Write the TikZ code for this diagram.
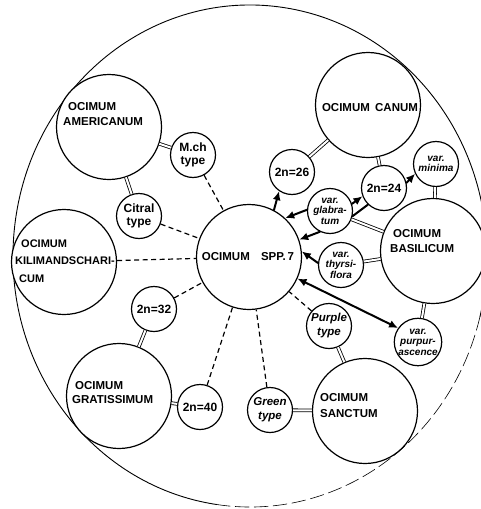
\documentclass[tikz,border=0pt]{standalone}
\usepackage{fontspec}
\setmainfont{Liberation Sans}
\usetikzlibrary{arrows.meta,positioning}

\begin{document}
\begin{tikzpicture}[
		x=1pt,
		y=-1pt,
		line cap=round,
		line join=round,
		bigsp/.style={
			circle,
			draw=black,
			fill=white,
			line width=1.2pt,
			minimum size=105pt,
			inner sep=0pt
		},
		smallsp/.style={
			circle,
			draw=black,
			fill=white,
			line width=1.2pt,
			minimum size=45pt,
			inner sep=0pt,
			align=center,
			font=\bfseries\fontsize{12}{13}\selectfont
		},
		typesp/.style={
			smallsp,
			font=\bfseries\itshape\fontsize{11.5}{14}\selectfont
		},
		varsp/.style={
			smallsp,
			font=\bfseries\itshape\fontsize{10}{10.5}\selectfont
		},
		bigtxt/.style={
			anchor=west,
			align=left,
			inner sep=0pt,
			font=\bfseries\fontsize{11.5}{15}\selectfont
		},
		rim/.style={
			draw=black,
			line width=0.9pt
		},
		link/.style={
			draw=black,
			line width=0.8pt,
			double=white,
			double distance=2pt,
			line cap=butt
		},
		dashlink/.style={
			draw=black,
			line width=1.2pt,
			line cap=butt,
			dash pattern=on 5pt off 3.5pt
		},
		route/.style={
			draw=black,
			line width=2pt,
			-{Latex[length=9pt,width=8pt]}
		}
		]
		
		\useasboundingbox (0,0) rectangle (481,509);
		
		% outer ring
		\draw[rim] ({250+237*cos(98)},{256+251*sin(98)})
			arc[start angle=98, end angle=374, x radius=237, y radius=251];
		\draw[rim, line width=0.6pt, dash pattern=on 14pt off 5pt]
			({250+237*cos(14)},{256+251*sin(14)})
			arc[start angle=14, end angle=98, x radius=237, y radius=251];
		
		% species circles
		\node[bigsp] (spp)   at (249,257) {};
		\node[bigsp] (amer)  at (109,127) {};
		\node[bigsp] (canum) at (368,105) {};
		\node[bigsp] (basil) at (433,251) {};
		\node[bigsp] (kili)  at (64,262)  {};
		\node[bigsp] (grat)  at (119,396) {};
		\node[bigsp] (sanct) at (365,411) {};
		
		% species names
		\node[bigtxt, anchor=center] (spptxt) at (248,257) {OCIMUM\hspace{8pt} SPP.\,7};
		\node[bigtxt] (amertxt)  at (63,114.5)  {\hspace{5pt}OCIMUM\\AMERICANUM};
		\node[bigtxt, anchor=center] (canumtxt) at (370,108) {OCIMUM\hspace{2pt} CANUM};
		\node[bigtxt] (basiltxt) at (390,241)   {\hspace{3pt}OCIMUM\\BASILICUM};
		\node[bigtxt, font=\bfseries\fontsize{11}{17.5}\selectfont] (kilitxt) at (15,261)
			{\hspace{6pt}OCIMUM\\KILIMANDSCHARI-\\\hspace{4pt}CUM};
		\node[bigtxt, font=\bfseries\fontsize{11.5}{13.5}\selectfont] (grattxt) at (72,392.5)
			{\hspace{3pt}OCIMUM\\GRATISSIMUM};
		\node[bigtxt, font=\bfseries\fontsize{11.5}{16}\selectfont] (sancttxt) at (320,406)
			{OCIMUM\\SANCTUM};
		
		% types and chromosome numbers
		\node[smallsp] (mch)    at (193,155) {M.ch\\type};
		\node[smallsp] (citral) at (139,216) {Citral\\type};
		\node[smallsp] (n26)    at (292,172) {2n=26};
		\node[smallsp] (n24)    at (384,188) {2n=24};
		\node[smallsp] (n32)    at (154,309) {2n=32};
		\node[smallsp] (n40)    at (200,407) {2n=40};
		\node[typesp]  (purple) at (329,326) {Purple\\type};
		\node[typesp]  (green)  at (270,410) {Green\\type};
		
		% varieties
		\node[varsp] (minima) at (436,164) {var.\\minima};
		\node[varsp] (glab)   at (330,211) {var.\\glabra-\\tum};
		\node[varsp] (thyr)   at (341,265) {var.\\thyrsi-\\flora};
		\node[varsp] (purpur) at (418,342) {var.\\purpur-\\ascence};
		
		% double links
		\draw[link] (amer) -- (mch);
		\draw[link] (amer) -- (citral);
		\draw[link] (canum) -- (n26);
		\draw[link] (canum) -- (n24);
		\draw[link] (minima) -- (basil);
		\draw[link] (glab) -- (basil);
		\draw[link] (thyr) -- (basil);
		\draw[link] (basil) -- (purpur);
		\draw[link] (purple) -- (sanct);
		\draw[link] (green) -- (sanct);
		\draw[link] (n32) -- (grat);
		\draw[link] (grat) -- (n40);
		
		% dashed links to the centre
		\draw[dashlink] (mch) -- (spp);
		\draw[dashlink] (citral) -- (spp);
		\draw[dashlink] (kili) -- (spp);
		\draw[dashlink] (n32) -- (spp);
		\draw[dashlink] (n40) -- (spp);
		\draw[dashlink] (green) -- (spp);
		\draw[dashlink] (purple) -- (spp);
		
		% arrows
		\draw[route] (spp.62) -- (n26.236);
		\draw[route] (glab.177) -- (spp.47);
		\draw[route] (glab.244) -- (spp.19);
		\draw[route] (glab.18) -- (n24.201);
		\draw[route, -] (glab.347) -- (n24.226);
		\draw[route] (n24.13) -- (minima.205);
		\draw[route] (thyr.175) -- (spp.6);
		\draw[route, {Latex[length=9pt,width=8pt]}-{Latex[length=9pt,width=8pt]}] (purpur.145) -- (spp.336);
\end{tikzpicture}
\end{document}
